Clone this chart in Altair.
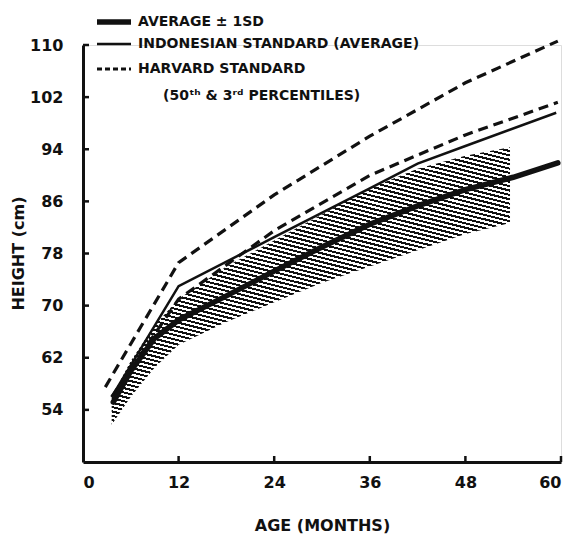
import altair as alt
import pandas as pd

# ---- data ----
AVG_AGE = [3.8, 6, 9, 12, 18, 24, 30, 36, 42, 48, 54, 59.6]
AVG_H = [55.2, 60.0, 65.0, 67.8, 71.5, 75.3, 79.0, 82.5, 85.3, 87.8, 89.7, 91.9]

IND_AGE = [3.6, 12, 24, 36, 42, 48, 59.4]
IND_H = [56.0, 73.0, 80.5, 88.0, 91.8, 94.5, 99.6]

H50_AGE = [2.8, 12, 24, 36, 48, 59.6]
H50_H = [57.5, 76.6, 87.0, 96.0, 104.2, 110.6]

H3_AGE = [3.6, 12, 24, 36, 48, 59.6]
H3_H = [56.0, 71.0, 81.5, 90.0, 96.2, 101.2]

BAND_AGE = [3.6, 6, 9, 12, 18, 24, 30, 36, 42, 48, 53.6]
BAND_LOW = [51.7, 56.0, 60.5, 64.0, 67.5, 70.5, 73.5, 76.0, 78.5, 81.0, 82.7]
BAND_HIGH = [56.0, 61.5, 67.0, 71.0, 76.0, 80.0, 84.0, 88.0, 91.0, 93.0, 94.3]

X_TICKS = [0, 12, 24, 36, 48, 60]
Y_TICKS = [54, 62, 70, 78, 86, 94, 102, 110]
X_INNER_TICKS = [12, 24, 36, 48, 60]

LEGEND_LABELS = [
    "AVERAGE \u00b1 1SD",
    "INDONESIAN STANDARD (AVERAGE)",
    "HARVARD STANDARD",
    "(50\u1d57\u02b0 & 3\u02b3\u1d48 PERCENTILES)",
]

# ---- styling ----
FONT = "DejaVu Sans"
INK = "#111111"
W, H = 478, 417

x_scale = alt.Scale(domain=[0, 60], nice=False)
y_scale = alt.Scale(domain=[46, 110], nice=False, zero=False)

x_axis = alt.Axis(
    values=X_TICKS, title="AGE (MONTHS)", ticks=False, grid=False,
    labelFont=FONT, labelFontSize=16, labelFontWeight="bold", labelColor=INK,
    labelPadding=12, domainColor=INK, domainWidth=3,
    titleFont=FONT, titleFontSize=16, titleFontWeight="bold", titleColor=INK,
    titleX=239, titleY=63, titleBaseline="middle",
)
y_axis = alt.Axis(
    values=Y_TICKS, title="HEIGHT (cm)", ticks=False, grid=False,
    labelFont=FONT, labelFontSize=16, labelFontWeight="bold", labelColor=INK,
    labelPadding=20, domainColor=INK, domainWidth=3,
    titleFont=FONT, titleFontSize=16, titleFontWeight="bold", titleColor=INK,
    titleX=-65, titleY=208, titleBaseline="middle", titleAngle=-90,
)


def X(field):
    return alt.X(field, type="quantitative", scale=x_scale, axis=x_axis)


def Y(field):
    return alt.Y(field, type="quantitative", scale=y_scale, axis=y_axis)


# hatch pattern made with a striped linear gradient (slanted stripes)
N = 100
stops = []
for i in range(N):
    a = i / N
    b = (i + 0.48) / N
    c = (i + 1) / N
    stops += [
        alt.GradientStop(offset=a, color=INK),
        alt.GradientStop(offset=b, color=INK),
        alt.GradientStop(offset=b, color="white"),
        alt.GradientStop(offset=c, color="white"),
    ]
hatch = alt.Gradient(gradient="linear", stops=stops, x1=0.5, y1=-0.2, x2=0, y2=1.2)

band_df = pd.DataFrame({"age": BAND_AGE, "lo": BAND_LOW, "hi": BAND_HIGH})
band = alt.Chart(band_df).mark_area(color=hatch).encode(
    x=X("age"), y=Y("lo"), y2="hi"
)


def series(ages, vals, **mk):
    df = pd.DataFrame({"age": ages, "h": vals})
    return alt.Chart(df).mark_line(color=INK, **mk).encode(x=X("age"), y=Y("h"))


h50 = series(H50_AGE, H50_H, strokeWidth=3.2, strokeDash=[10, 6])
h3 = series(H3_AGE, H3_H, strokeWidth=3.2, strokeDash=[10, 6])
ind = series(IND_AGE, IND_H, strokeWidth=2.5)
avg = series(AVG_AGE, AVG_H, strokeWidth=5.5, strokeCap="round")

# inward ticks
yt = alt.Chart(pd.DataFrame({"v": Y_TICKS})).mark_rule(color=INK, strokeWidth=2.5).encode(
    y=Y("v"), x=alt.value(0), x2=alt.value(6)
)
xt = alt.Chart(pd.DataFrame({"v": X_INNER_TICKS})).mark_rule(color=INK, strokeWidth=2.5).encode(
    x=X("v"), y=alt.value(H), y2=alt.value(H - 6)
)

# legend
def legend_line(ypx, width, dash=None):
    kw = dict(color=INK, strokeWidth=width)
    if dash:
        kw["strokeDash"] = dash
    return alt.Chart(pd.DataFrame({"k": [0]})).mark_rule(**kw).encode(
        x=alt.value(14), x2=alt.value(48), y=alt.value(ypx)
    )


def legend_text(label, xpx, ypx):
    return alt.Chart(pd.DataFrame({"t": [label]})).mark_text(
        font=FONT, fontSize=14, fontWeight="bold", color=INK,
        align="left", baseline="middle",
    ).encode(text="t:N", x=alt.value(xpx), y=alt.value(ypx))


legend = [
    legend_line(-23, 5.5),
    legend_line(-1, 2.5),
    legend_line(24, 3, [5, 3]),
    legend_text(LEGEND_LABELS[0], 55, -23),
    legend_text(LEGEND_LABELS[1], 55, -1),
    legend_text(LEGEND_LABELS[2], 55, 24),
    legend_text(LEGEND_LABELS[3], 80, 51),
]

chart = alt.layer(band, h50, h3, ind, avg, yt, xt, *legend).properties(
    width=W, height=H,
    autosize=alt.AutoSizeParams(type="none"),
    padding={"left": 83, "top": 45, "right": 13, "bottom": 74},
).configure_view(stroke=None).configure(background="white")

chart.save("out.html", embed_options={"renderer": "svg", "actions": False})
